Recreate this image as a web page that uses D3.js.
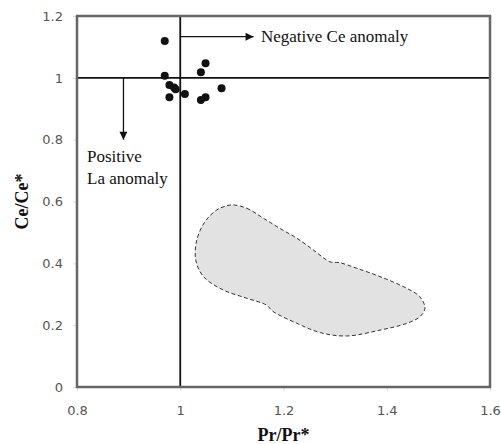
<!DOCTYPE html>
<html>
<head>
<meta charset="utf-8">
<script src="https://cdn.jsdelivr.net/npm/d3@7"></script>
<style>
  body { margin: 0; background: #fff; }
  svg { display: block; }
</style>
</head>
<body>
<svg id="chart"></svg>
<script>
// sample points (Pr/Pr*, Ce/Ce*)
const prValues = [0.970, 0.970, 0.979, 0.988, 0.991, 0.979, 1.009, 1.040, 1.049, 1.040, 1.049, 1.080];
const ceValues = [1.119, 1.007, 0.977, 0.969, 0.963, 0.937, 0.948, 0.928, 0.937, 1.018, 1.047, 0.966];

// outline of the shaded field
const fieldX = [1.103, 1.129, 1.161, 1.193, 1.226, 1.258, 1.290, 1.309, 1.342, 1.387, 1.439, 1.464, 1.474, 1.464, 1.439, 1.387, 1.322, 1.271, 1.226, 1.180, 1.167, 1.129, 1.083, 1.045, 1.030, 1.032, 1.048, 1.071, 1.090];
const fieldY = [0.589, 0.578, 0.546, 0.513, 0.481, 0.443, 0.405, 0.402, 0.384, 0.357, 0.319, 0.292, 0.255, 0.227, 0.206, 0.184, 0.165, 0.176, 0.206, 0.244, 0.265, 0.287, 0.314, 0.357, 0.411, 0.475, 0.535, 0.573, 0.586];

const xTicks = [0.8, 1, 1.2, 1.4, 1.6];
const yTicks = [0, 0.2, 0.4, 0.6, 0.8, 1, 1.2];

const width = 501, height = 444;
const mLeft = 77, mRight = 490, mTop = 16, mBottom = 387;

const svg = d3.select("#chart")
    .attr("width", width)
    .attr("height", height);

const x = d3.scaleLinear().domain([0.8, 1.6]).range([mLeft, mRight]);
const y = d3.scaleLinear().domain([0, 1.2]).range([mBottom, mTop]);

// axes
const xAxis = svg.append("g")
    .attr("transform", `translate(0,${mBottom})`)
    .call(d3.axisBottom(x).tickValues(xTicks).tickSize(4).tickPadding(15).tickFormat(d => String(+d.toFixed(1))));
const yAxis = svg.append("g")
    .attr("transform", `translate(${mLeft},0)`)
    .call(d3.axisLeft(y).tickValues(yTicks).tickSize(4).tickPadding(10).tickFormat(d => String(+d.toFixed(1))));

[xAxis, yAxis].forEach(g => {
    g.select(".domain").remove();
    g.selectAll(".tick line").attr("stroke", "#d8d8d8");
    g.selectAll(".tick text")
        .attr("fill", "#555")
        .style("font-family", "'DejaVu Sans', sans-serif")
        .style("font-size", "13px");
});

// shaded field
const fieldPts = fieldX.map((d, i) => [x(d), y(fieldY[i])]);
svg.append("path")
    .attr("d", d3.line().curve(d3.curveCatmullRomClosed)(fieldPts))
    .attr("fill", "#e2e2e2")
    .attr("stroke", "#333")
    .attr("stroke-width", 1)
    .attr("stroke-dasharray", "4,2.5");

// reference lines at 1
svg.append("line")
    .attr("x1", x(1)).attr("x2", x(1))
    .attr("y1", mTop).attr("y2", mBottom)
    .attr("stroke", "#111").attr("stroke-width", 1.8);
svg.append("line")
    .attr("x1", mLeft).attr("x2", mRight)
    .attr("y1", y(1)).attr("y2", y(1))
    .attr("stroke", "#111").attr("stroke-width", 1.8);

// frame
svg.append("rect")
    .attr("x", mLeft).attr("y", mTop)
    .attr("width", mRight - mLeft).attr("height", mBottom - mTop)
    .attr("fill", "none")
    .attr("stroke", "#666")
    .attr("stroke-width", 2.5);

// arrows
svg.append("defs").append("marker")
    .attr("id", "head")
    .attr("viewBox", "0 0 10 10")
    .attr("refX", 10).attr("refY", 5)
    .attr("markerWidth", 10).attr("markerHeight", 8)
    .attr("markerUnits", "userSpaceOnUse")
    .attr("orient", "auto")
    .append("path")
    .attr("d", "M0,0L10,5L0,10Z")
    .attr("fill", "#111");

svg.append("line")
    .attr("x1", x(1)).attr("x2", x(1.142))
    .attr("y1", y(1.133)).attr("y2", y(1.133))
    .attr("stroke", "#111").attr("stroke-width", 1.3)
    .attr("marker-end", "url(#head)");
svg.append("line")
    .attr("x1", x(0.89)).attr("x2", x(0.89))
    .attr("y1", y(1)).attr("y2", y(0.8))
    .attr("stroke", "#111").attr("stroke-width", 1.3)
    .attr("marker-end", "url(#head)");

// points
svg.selectAll("circle.pt")
    .data(prValues)
    .enter()
    .append("circle")
    .attr("class", "pt")
    .attr("cx", d => x(d))
    .attr("cy", (d, i) => y(ceValues[i]))
    .attr("r", 4)
    .attr("fill", "#111");

// annotations
const serif = "'Liberation Serif', 'Times New Roman', serif";
svg.append("text")
    .attr("x", 261).attr("y", 42)
    .style("font-family", serif).style("font-size", "17px")
    .attr("fill", "#111")
    .text("Negative Ce anomaly");
svg.append("text")
    .attr("x", 87).attr("y", 162)
    .style("font-family", serif).style("font-size", "17px")
    .attr("fill", "#111")
    .text("Positive");
svg.append("text")
    .attr("x", 87).attr("y", 184)
    .style("font-family", serif).style("font-size", "17px")
    .attr("fill", "#111")
    .text("La anomaly");

// axis titles
svg.append("text")
    .attr("x", (mLeft + mRight) / 2).attr("y", 441)
    .attr("text-anchor", "middle")
    .style("font-family", serif).style("font-size", "18px").style("font-weight", "bold")
    .attr("fill", "#111")
    .text("Pr/Pr*");
svg.append("text")
    .attr("transform", `translate(28,${(mTop + mBottom) / 2}) rotate(-90)`)
    .attr("text-anchor", "middle")
    .style("font-family", serif).style("font-size", "18px").style("font-weight", "bold")
    .attr("fill", "#111")
    .text("Ce/Ce*");
</script>
</body>
</html>
